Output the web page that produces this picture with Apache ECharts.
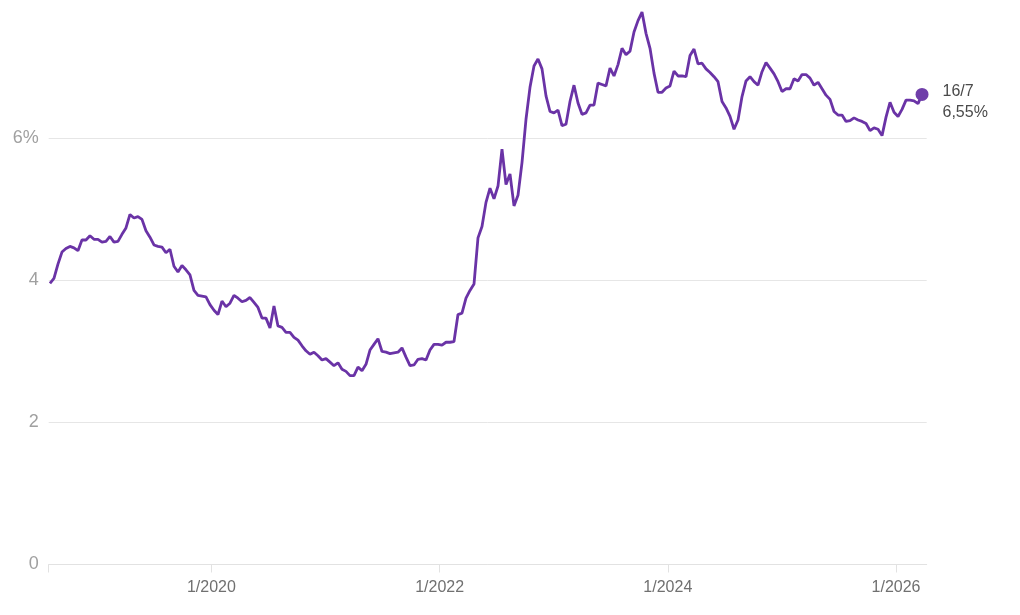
<!DOCTYPE html>
<html>
  <head>
    <meta charset="UTF-8" />
    <title>Rate chart</title>
    <script src="https://cdn.jsdelivr.net/npm/echarts@6/dist/echarts.min.js"></script>
    <style>
      body {
        padding: 0;
        margin: 0;
        background: #fff;
      }
      #main {
        width: 1020px;
        height: 615px;
      }
    </style>
  </head>
  <body>
    <div id="main"></div>
    <script type="text/javascript">
      // x in decimal years, one reading every ~12.8 days
      var xStart = 2018.585;
      var xStep = 0.03506;
      var xMin = 2018.574;
      var xMax = 2026.269;
      var xTickYears = [2020, 2022, 2024, 2026];

      // rate in %
      var rates = [
        3.96, 4.03, 4.23, 4.40, 4.45, 4.48, 4.46, 4.42, 4.57, 4.57,
        4.63, 4.58, 4.58, 4.54, 4.55, 4.62, 4.54, 4.55, 4.65, 4.74,
        4.93, 4.88, 4.90, 4.86, 4.70, 4.61, 4.50, 4.48, 4.47, 4.39,
        4.44, 4.20, 4.12, 4.21, 4.15, 4.08, 3.86, 3.79, 3.78, 3.77,
        3.66, 3.58, 3.52, 3.71, 3.63, 3.68, 3.79, 3.75, 3.70, 3.72,
        3.76, 3.69, 3.62, 3.47, 3.47, 3.33, 3.64, 3.36, 3.34, 3.27,
        3.27, 3.20, 3.16, 3.08, 3.01, 2.96, 2.99, 2.94, 2.88, 2.90,
        2.85, 2.80, 2.84, 2.75, 2.72, 2.66, 2.66, 2.78, 2.73, 2.82,
        3.02, 3.10, 3.18, 3.00, 2.99, 2.97, 2.98, 2.99, 3.05, 2.92,
        2.80, 2.81, 2.89, 2.90, 2.88, 3.02, 3.10, 3.10, 3.09, 3.13,
        3.13, 3.14, 3.52, 3.54, 3.75, 3.86, 3.95, 4.60, 4.76, 5.10,
        5.30, 5.15, 5.33, 5.85, 5.35, 5.50, 5.05, 5.20, 5.66, 6.27,
        6.72, 7.02, 7.12, 6.98, 6.60, 6.38, 6.36, 6.40, 6.18, 6.20,
        6.52, 6.75, 6.50, 6.34, 6.36, 6.47, 6.47, 6.78, 6.76, 6.74,
        6.99, 6.88, 7.04, 7.27, 7.18, 7.23, 7.50, 7.66, 7.78, 7.48,
        7.27, 6.92, 6.65, 6.65, 6.71, 6.74, 6.95, 6.88, 6.88, 6.87,
        7.17, 7.26, 7.05, 7.06, 6.98, 6.93, 6.87, 6.80, 6.52, 6.43,
        6.31, 6.13, 6.26, 6.59, 6.81, 6.87, 6.80, 6.75, 6.94, 7.07,
        6.99, 6.91, 6.80, 6.66, 6.70, 6.70, 6.84, 6.81, 6.90, 6.90,
        6.85, 6.75, 6.79, 6.70, 6.61, 6.55, 6.38, 6.33, 6.33, 6.24,
        6.25, 6.29, 6.26, 6.24, 6.21, 6.11, 6.15, 6.13, 6.04, 6.30,
        6.51, 6.37, 6.31, 6.41, 6.54, 6.54, 6.53, 6.49, 6.62
      ];

      var lastDate = "16/7";
      var lastRate = "6,55%";

      var lineData = rates.map(function(v, i) {
        return [xStart + i * xStep, v];
      });
      var lastPoint = lineData[lineData.length - 1];

      var chart = echarts.init(document.getElementById("main"));
      var font = "'Liberation Sans', Arial, Helvetica, sans-serif";

      chart.setOption({
        animation: false,
        backgroundColor: "#fff",
        grid: {
          left: 48.7,
          right: 93.3,
          top: 0,
          bottom: 50.5
        },
        xAxis: {
          type: "value",
          min: xMin,
          max: xMax,
          axisLine: { lineStyle: { color: "#e2e2e2", width: 1 } },
          axisTick: {
            show: true,
            length: 8,
            customValues: [xMin].concat(xTickYears),
            lineStyle: { color: "#e2e2e2" }
          },
          axisLabel: {
            customValues: xTickYears,
            margin: 15,
            fontSize: 16,
            fontFamily: font,
            color: "#707070",
            formatter: function(v) {
              return "1/" + Math.round(v);
            }
          },
          splitLine: { show: false }
        },
        yAxis: {
          type: "value",
          min: 0,
          max: 7.95,
          interval: 2,
          axisLine: { show: false },
          axisTick: { show: false },
          axisLabel: {
            showMaxLabel: false,
            margin: 10,
            fontSize: 18,
            fontFamily: font,
            color: "#a0a0a0",
            formatter: function(v) {
              return v === 6 ? "6%" : String(v);
            }
          },
          splitLine: {
            showMaxLine: false,
            lineStyle: { color: "#e6e6e6", width: 1 }
          }
        },
        series: [
          {
            type: "line",
            data: lineData,
            showSymbol: false,
            silent: true,
            lineStyle: { color: "#6a33a6", width: 2.8 },
            z: 2
          },
          {
            type: "scatter",
            data: [lastPoint],
            symbolSize: 13,
            silent: true,
            itemStyle: { color: "#6f3ea9", opacity: 1 },
            label: {
              show: true,
              position: "right",
              distance: 14,
              offset: [0, 8],
              fontSize: 16,
              lineHeight: 21,
              fontFamily: font,
              color: "#4a4a4a",
              formatter: function() {
                return lastDate + "\n" + lastRate;
              }
            },
            z: 3
          }
        ]
      });
    </script>
  </body>
</html>
